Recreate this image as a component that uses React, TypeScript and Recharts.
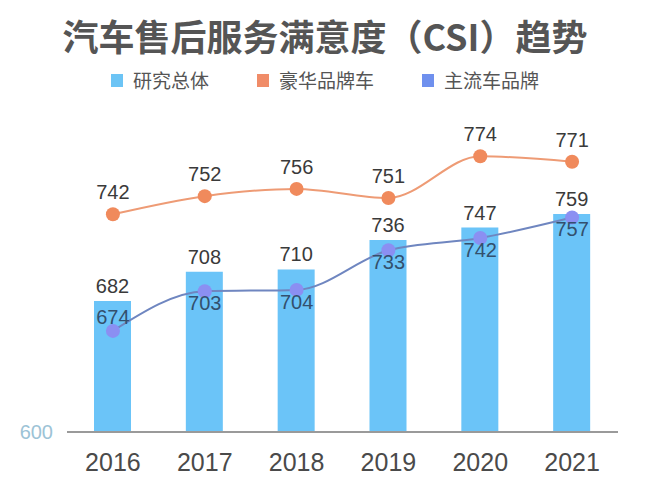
import React from "react";
import {
  ComposedChart,
  Bar,
  Line,
  XAxis,
  YAxis,
  LabelList,
} from "recharts";

const YEARS = ["2016", "2017", "2018", "2019", "2020", "2021"];
const OVERALL = [682, 708, 710, 736, 747, 759];
const LUXURY = [742, 752, 756, 751, 774, 771];
const MAINSTREAM = [674, 703, 704, 733, 742, 757];
const Y_TICKS = [600];

const SERIES_NAMES = ["研究总体", "豪华品牌车", "主流车品牌"];
const LEGEND_COLORS = ["#6cc4f5", "#f08c68", "#6f90ee"];

const data = YEARS.map((year, i) => ({
  year,
  overall: OVERALL[i],
  luxury: LUXURY[i],
  mainstream: MAINSTREAM[i],
}));

const NUM_FONT = "'Liberation Sans', Arial, sans-serif";
const CJK_FONT = "'Noto Sans CJK SC', 'Noto Sans', sans-serif";

const BarLabel = (props: any) => {
  const { x, y, width, value } = props;
  return (
    <text
      x={x + width / 2}
      y={y - 15}
      textAnchor="middle"
      dominantBaseline="central"
      fontSize={20}
      fontFamily={NUM_FONT}
      fill="#3a3a3a"
    >
      {value}
    </text>
  );
};

const LuxLabel = (props: any) => {
  const { x, y, value } = props;
  return (
    <text
      x={x}
      y={y - 22}
      textAnchor="middle"
      dominantBaseline="central"
      fontSize={20}
      fontFamily={NUM_FONT}
      fill="#3a3a3a"
    >
      {value}
    </text>
  );
};

const MainLabel = (props: any) => {
  const { x, y, value, index } = props;
  // the first label sits above its dot, the rest below
  const dy = index === 0 ? -14 : 12;
  return (
    <text
      x={x}
      y={y + dy}
      textAnchor="middle"
      dominantBaseline="central"
      fontSize={20}
      fontFamily={NUM_FONT}
      fill="#33506e"
    >
      {value}
    </text>
  );
};

export default function App() {
  return (
    <div
      style={{
        position: "absolute",
        left: 0,
        top: 0,
        width: 650,
        height: 482,
        background: "#fff",
      }}
    >
      <div
        style={{
          position: "absolute",
          top: 13,
          left: 0,
          width: 650,
          textAlign: "center",
          fontFamily: CJK_FONT,
          fontSize: 36,
          lineHeight: "44px",
          fontWeight: 700,
          color: "#555",
        }}
      >
        汽车售后服务满意度（CSI）趋势
      </div>
      <div
        style={{
          position: "absolute",
          top: 69,
          left: 0,
          width: 650,
          display: "flex",
          justifyContent: "center",
          gap: 48,
          fontFamily: CJK_FONT,
          fontSize: 19,
          lineHeight: "22px",
          color: "#555",
        }}
      >
        {SERIES_NAMES.map((name, i) => (
          <div key={name} style={{ display: "flex", alignItems: "center" }}>
            <span
              style={{
                display: "inline-block",
                width: 12,
                height: 13,
                background: LEGEND_COLORS[i],
                marginRight: 10,
              }}
            />
            {name}
          </div>
        ))}
      </div>
      <ComposedChart
        width={650}
        height={482}
        data={data}
        margin={{ top: 100, right: 32, bottom: 0, left: 11 }}
        style={{ position: "absolute", left: 0, top: 0 }}
      >
        <XAxis
          dataKey="year"
          height={50}
          tickLine={false}
          tickSize={0}
          tickMargin={21}
          axisLine={{ stroke: "#9a9a9a", strokeWidth: 2 }}
          tick={{ fontSize: 25, fill: "#4a4a4a", fontFamily: NUM_FONT }}
        />
        <YAxis yAxisId="bar" hide width={0} domain={[566, 860]} />
        <YAxis yAxisId="lux" hide width={0} domain={[622, 805]} />
        <YAxis
          yAxisId="main"
          width={56}
          domain={[600, 843]}
          ticks={Y_TICKS}
          axisLine={false}
          tickLine={false}
          tickSize={0}
          tickMargin={14}
          tick={{ fontSize: 20, fill: "#9cc3d6", fontFamily: NUM_FONT }}
        />
        <Bar
          yAxisId="bar"
          dataKey="overall"
          fill="#6bc4f8"
          barSize={37}
          isAnimationActive={false}
        >
          <LabelList dataKey="overall" content={BarLabel} />
        </Bar>
        <Line
          yAxisId="lux"
          type="monotone"
          dataKey="luxury"
          stroke="#ee9b75"
          strokeWidth={2}
          dot={{ r: 7, fill: "#f08a5c", stroke: "none" }}
          isAnimationActive={false}
        >
          <LabelList dataKey="luxury" content={LuxLabel} />
        </Line>
        <Line
          yAxisId="main"
          type="monotone"
          dataKey="mainstream"
          stroke="#6f86c0"
          strokeWidth={2}
          dot={{ r: 7, fill: "#8b8ff2", stroke: "none" }}
          isAnimationActive={false}
        >
          <LabelList dataKey="mainstream" content={MainLabel} />
        </Line>
      </ComposedChart>
    </div>
  );
}
